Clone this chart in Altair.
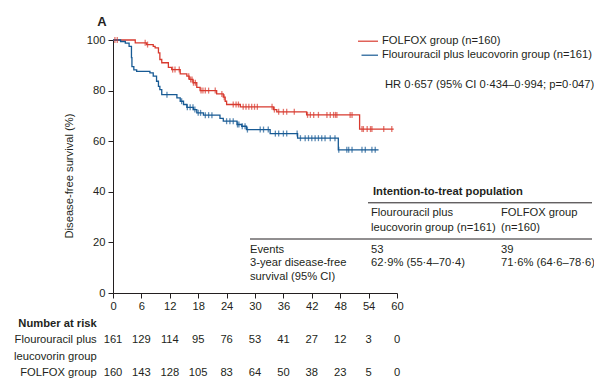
import altair as alt
import pandas as pd
import numpy as np

# ---------------- data ----------------
groups = ["FOLFOX group (n=160)", "Flourouracil plus leucovorin group (n=161)"]

folfox_t = [0, 4.7, 7.1, 8.5, 8.9, 9.6, 9.9, 10.3, 11.7, 12.4, 14.2, 15.6, 16.1, 16.9, 17.7,
            18.4, 21.9, 23.3, 23.7, 24.0, 26.9, 33.9, 34.6, 40.9, 52.1, 59.3]
folfox_s = [100, 98.9, 98.2, 97.5, 96.9, 94.9, 92.3, 91.0, 89.2, 88.3, 86.6, 85.7, 84.4, 83.1, 81.3,
            80.0, 78.7, 77.4, 75.8, 74.5, 73.6, 72.5, 71.6, 70.4, 64.8, 64.8]

fl_t = [0, 1.6, 2.6, 3.4, 3.9, 4.0, 4.4, 5.0, 7.8, 8.5, 9.2, 9.6, 9.9, 10.3, 13.5, 14.2, 14.9,
        15.6, 17.0, 17.7, 19.1, 22.6, 23.3, 26.2, 27.2, 28.2, 33.2, 39.0, 47.6, 56.1]
fl_s = [100, 99.4, 98.8, 97.5, 93.0, 89.5, 88.2, 87.6, 87.0, 85.7, 83.7, 81.7, 80.4, 78.4, 77.1,
        75.8, 74.5, 73.4, 72.5, 71.2, 70.3, 69.0, 67.9, 66.6, 65.9, 64.6, 63.0, 61.2, 56.6, 56.6]

folfox_cens = [0.4, 0.9, 6.8, 7.3, 12.6, 13.1, 14.0, 16.0, 16.4, 16.7, 17.0, 17.4, 18.6, 19.0, 19.5,
               20.2, 21.6, 23.0, 23.5, 25.4, 26.0, 26.5, 27.5, 28.1, 28.7, 29.3, 29.9, 30.5, 33.6,
               34.1, 35.0, 36.0, 36.7, 38.3, 41.1, 41.7, 42.4, 43.4, 45.2, 45.9, 46.6, 47.0, 47.3,
               50.1, 50.5, 52.6, 52.9, 53.7, 54.4, 54.7, 57.2, 58.9]
fl_cens = [11.4, 14.5, 15.7, 16.3, 16.9, 17.3, 18.0, 18.5, 19.5, 20.2, 20.9, 24.0, 24.7, 25.4, 26.3,
           26.6, 27.3, 27.9, 28.4, 31.1, 31.8, 32.8, 34.3, 35.0, 36.0, 36.7, 38.9, 39.6, 40.6, 41.3,
           42.0, 42.7, 43.4, 44.1, 44.8, 45.9, 46.9, 47.7, 49.4, 49.8, 50.5, 52.6, 53.3, 54.7, 55.4]

risk_months = [0, 6, 12, 18, 24, 30, 36, 42, 48, 54, 60]
risk_fl = [161, 129, 114, 95, 76, 53, 41, 27, 12, 3, 0]
risk_folfox = [160, 143, 128, 105, 83, 64, 50, 38, 23, 5, 0]

x_ticks = [0, 6, 12, 18, 24, 30, 36, 42, 48, 54, 60]
y_ticks = [0, 20, 40, 60, 80, 100]

panel_label = "A"
y_title = "Disease-free survival (%)"
hr_text = "HR 0·657 (95% CI 0·434–0·994; p=0·047)"
table_header = "Intention-to-treat population"
col1_head = ["Flourouracil plus", "leucovorin group (n=161)"]
col2_head = ["FOLFOX group", "(n=160)"]
row_labels = ["Events", "3-year disease-free", "survival (95% CI)"]
col1_vals = ["53", "62·9% (55·4–70·4)"]
col2_vals = ["39", "71·6% (64·6–78·6)"]
risk_title = "Number at risk"
risk_labels = ["Flourouracil plus", "leucovorin group", "FOLFOX group"]

# ---------------- style ----------------
RED = "#d83a2f"
BLUE = "#175a94"
TXT = "#231f20"
FONT = "Liberation Sans"
FS = 11.2

def curve(t, s, g):
    return pd.DataFrame({"month": t, "surv": s, "group": g})

def censor(c, t, s, g):
    idx = np.searchsorted(np.array(t), np.array(c), side="right") - 1
    return pd.DataFrame({"month": c, "surv": np.array(s)[idx], "group": g})

curves = pd.concat([curve(folfox_t, folfox_s, groups[0]), curve(fl_t, fl_s, groups[1])])
cens = pd.concat([censor(folfox_cens, folfox_t, folfox_s, groups[0]),
                  censor(fl_cens, fl_t, fl_s, groups[1])])

xs = alt.Scale(domain=[0, 60], nice=False, zero=False)
ys = alt.Scale(domain=[0, 100], nice=False)
col = alt.Color("group:N", scale=alt.Scale(domain=groups, range=[RED, BLUE]), legend=None)

xaxis = alt.Axis(values=x_ticks, title=None, grid=False, tickSize=5, labelPadding=2,
                 labelFontSize=FS, labelFont=FONT, labelColor=TXT, domainColor=TXT,
                 tickColor=TXT, labelFlush=False, labelOverlap=False)
yaxis = alt.Axis(values=y_ticks, title=None, grid=False, tickSize=5, labelPadding=3,
                 labelFontSize=FS, labelFont=FONT, labelColor=TXT, domainColor=TXT,
                 tickColor=TXT, labelOverlap=False)

XE = alt.X("month:Q", scale=xs, axis=xaxis)
YE = alt.Y("surv:Q", scale=ys, axis=yaxis)

lines = alt.Chart(curves).mark_line(interpolate="step-after", strokeWidth=1.3).encode(
    x=XE, y=YE, color=col)
ticks = alt.Chart(cens).mark_tick(orient="vertical", size=6, thickness=1.3).encode(
    x=XE, y=YE, color=col)

def txt(s, x, y, align="left", bold=False, size=FS, color=TXT, angle=0):
    return alt.Chart(pd.DataFrame({"t": [s]})).mark_text(
        align=align, baseline="middle", font=FONT, fontSize=size, color=color,
        fontWeight="bold" if bold else "normal", angle=angle,
    ).encode(text="t:N", x=alt.value(x), y=alt.value(y))

def hline(x1, x2, y, color=TXT, w=1):
    return alt.Chart(pd.DataFrame({"a": [0]})).mark_rule(color=color, strokeWidth=w).encode(
        x=alt.value(x1), x2=alt.value(x2), y=alt.value(y))

layers = [lines, ticks]

# panel label and y title
layers.append(txt(panel_label, -11, -18.5, align="center", bold=True, size=13))
layers.append(txt(y_title, -43, 136, align="center", angle=270))

# legend
layers += [hline(245, 265, 1.2, RED, 1.2), txt(groups[0], 269, 1.2),
           hline(248.5, 265, 15.2, BLUE, 1.2), txt(groups[1], 269, 15.2),
           txt(hr_text, 272, 44.5)]

# table
layers += [txt(table_header, 260, 152.2, bold=True),
           hline(255, 479, 162.8),
           txt(col1_head[0], 258, 172.8), txt(col1_head[1], 258, 187.8),
           txt(col2_head[0], 388, 172.8), txt(col2_head[1], 388, 187.8),
           hline(137, 479, 199),
           txt(row_labels[0], 137, 209.5), txt(row_labels[1], 137, 223), txt(row_labels[2], 137, 236.5),
           txt(col1_vals[0], 258, 209.5), txt(col1_vals[1], 258, 223),
           txt(col2_vals[0], 388, 209.5), txt(col2_vals[1], 388, 223)]

# number at risk
layers += [txt(risk_title, -16.3, 283.5, align="right", bold=True),
           txt(risk_labels[0], -16.3, 300, align="right"),
           txt(risk_labels[1], -16.3, 316.5, align="right"),
           txt(risk_labels[2], -16.3, 333, align="right")]

risk_df1 = pd.DataFrame({"month": risk_months, "n": risk_fl})
risk_df2 = pd.DataFrame({"month": risk_months, "n": risk_folfox})
for df, yy in [(risk_df1, 300), (risk_df2, 333)]:
    layers.append(alt.Chart(df).mark_text(align="center", baseline="middle", font=FONT,
                                          fontSize=FS, color=TXT).encode(
        x=XE, y=alt.value(yy), text="n:Q"))

chart = alt.layer(*layers).properties(
    width=284, height=253,
    autosize=alt.AutoSizeParams(type="none"),
    padding={"left": 105, "top": 32, "right": 197, "bottom": 88},
    background="white",
).configure_view(stroke="transparent", strokeWidth=0)

chart.save("out.html", embed_options={"renderer": "svg", "actions": False})
